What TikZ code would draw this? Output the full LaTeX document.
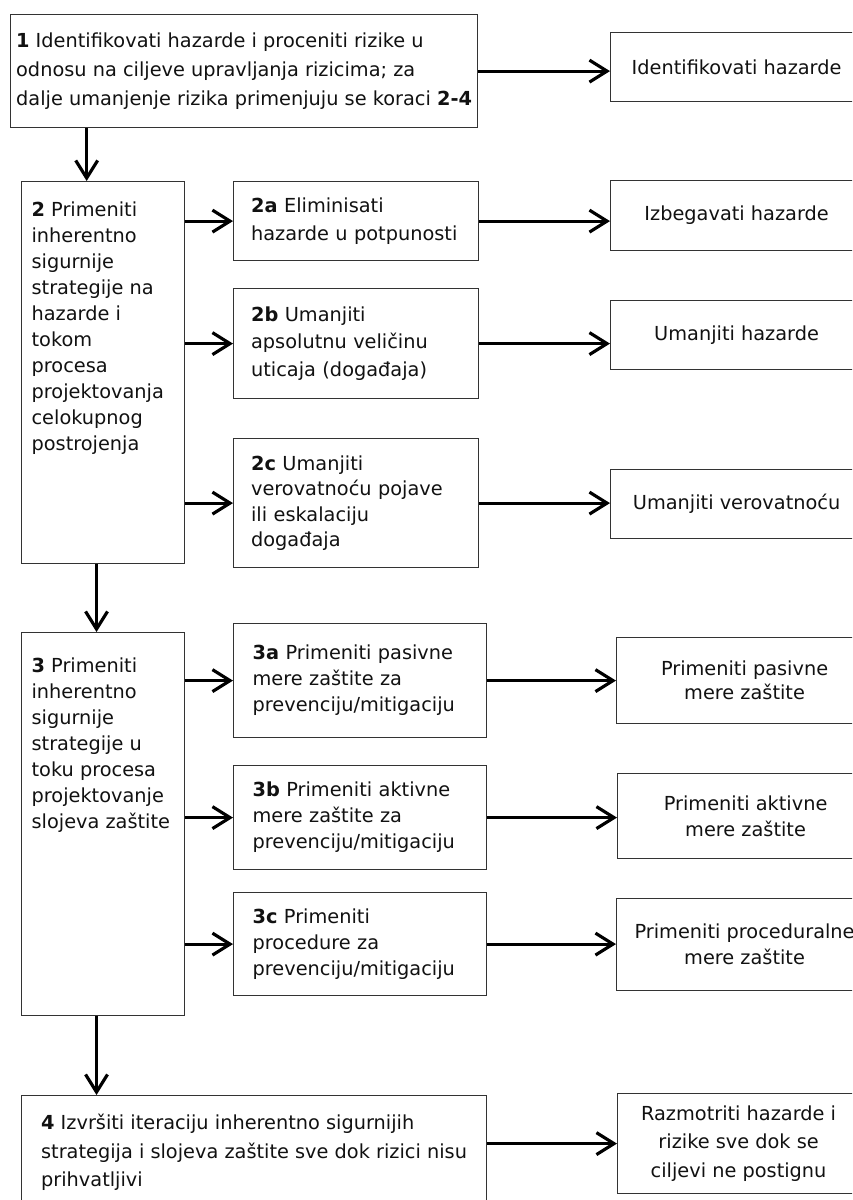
\documentclass[tikz,border=0pt]{standalone}
\usepackage{fontspec}
\setmainfont{DejaVu Sans}
\usetikzlibrary{arrows.meta, positioning, calc}
\definecolor{boxline}{HTML}{333333}
\definecolor{inkcolor}{HTML}{111111}

\begin{document}
\begin{tikzpicture}[
    x=0.02cm, y=-0.02cm,
    every node/.style={text=inkcolor},
    lead/.style={font=\fontsize{11pt}{#1}\selectfont},
    box/.style={draw=boxline, line width=0.7pt, inner sep=0pt, anchor=north west, lead=14.8pt},
    main/.style={box, align=left, inner xsep=0.08cm},
    sub/.style={box, align=left, text width=4.2cm, minimum width=4.9cm},
    subwide/.style={box, align=left, text width=4.3cm, minimum width=5.06cm},
    goal/.style={box, align=center, minimum width=5.04cm},
    arr/.style={line width=1.8pt, -{Straight Barb[length=10pt, width=12.5pt]}},
]
\useasboundingbox (0,0) rectangle (852,1200);
\clip (0,0) rectangle (852,1200);

% ================================================================ step 1
\node[main, lead=16.3pt, minimum width=9.34cm, minimum height=2.26cm] (b1) at (10,14)
    {\textbf{1} Identifikovati hazarde i proceniti rizike u\\ odnosu na ciljeve upravljanja rizicima; za\\ dalje umanjenje rizika primenjuju se koraci \textbf{2-4}};
\node[goal, minimum height=1.38cm] (r1) at (610,32) {Identifikovati hazarde};

% ================================================================ step 2
\node[box, inner xsep=0.2cm, inner ysep=0.4cm] (b2) at (21,181)
    {\parbox[t][6.84cm][t]{2.86cm}{\raggedright\textbf{2} Primeniti\\ inherentno\\ sigurnije\\ strategije na\\ hazarde i\\ tokom\\ procesa\\ projektovanja\\ celokupnog\\ postrojenja}};

\node[sub, lead=16.4pt, minimum height=1.58cm] (s2a) at (233,181) {\textbf{2a} Eliminisati\\ hazarde u potpunosti};
\node[sub, lead=15.9pt, minimum height=2.2cm] (s2b) at (233,288) {\textbf{2b} Umanjiti\\ apsolutnu veličinu\\ uticaja (događaja)};
\node[sub, lead=14.4pt, minimum height=2.58cm] (s2c) at (233,438) {\textbf{2c} Umanjiti\\ verovatnoću pojave\\ ili eskalaciju\\ događaja};

\node[goal, minimum height=1.4cm] (r2a) at (610,180) {Izbegavati hazarde};
\node[goal, minimum height=1.38cm] (r2b) at (610,300) {Umanjiti hazarde};
\node[goal, minimum height=1.38cm] (r2c) at (610,469) {Umanjiti verovatnoću};

% ================================================================ step 3
\node[box, inner xsep=0.2cm, inner ysep=0.5cm] (b3) at (21,632)
    {\parbox[t][6.66cm][t]{2.86cm}{\raggedright\textbf{3} Primeniti\\ inherentno\\ sigurnije\\ strategije u\\ toku procesa\\ projektovanje\\ slojeva zaštite}};

\node[subwide, minimum height=2.28cm] (s3a) at (233,623) {\textbf{3a} Primeniti pasivne\\ mere zaštite za\\ prevenciju/mitigaciju};
\node[subwide, minimum height=2.08cm] (s3b) at (233,765) {\textbf{3b} Primeniti aktivne\\ mere zaštite za\\ prevenciju/mitigaciju};
\node[subwide, minimum height=2.06cm] (s3c) at (233,892) {\textbf{3c} Primeniti\\ procedure za\\ prevenciju/mitigaciju};

\node[goal, minimum width=5.12cm, minimum height=1.72cm, lead=13.8pt] (r3a) at (616,637) {Primeniti pasivne\\ mere zaštite};
\node[goal, minimum width=5.12cm, minimum height=1.7cm, lead=15pt] (r3b) at (617,773) {Primeniti aktivne\\ mere zaštite};
\node[goal, minimum width=5.12cm, minimum height=1.84cm, lead=15pt] (r3c) at (616,898) {Primeniti proceduralne\\ mere zaštite};

% ================================================================ step 4
\node[main, lead=16.2pt, inner xsep=0.1cm, minimum width=9.3cm, minimum height=2.28cm] (b4) at (21,1095)
    {\textbf{4} Izvršiti iteraciju inherentno sigurnijih\\ strategija i slojeva zaštite sve dok rizici nisu\\ prihvatljivi};
\node[goal, minimum width=4.84cm, minimum height=2cm, lead=16.2pt] (r4) at (617,1093) {Razmotriti hazarde i\\ rizike sve dok se\\ ciljevi ne postignu};

% ================================================================ arrows
\draw[arr] (b1.east) -- (b1.east -| r1.west);
\foreach \s/\r in {s2a/r2a, s2b/r2b, s2c/r2c, s3a/r3a, s3b/r3b, s3c/r3c}{
    \draw[arr] (\s.east) -- (\s.east -| \r.west);
}
\foreach \s in {s2a, s2b, s2c}{ \draw[arr] (\s.west -| b2.east) -- (\s.west); }
\foreach \s in {s3a, s3b, s3c}{ \draw[arr] (\s.west -| b3.east) -- (\s.west); }
\draw[arr] (b4.east |- r4.west) -- (r4.west);

% down the left column
\coordinate (d12) at ($(b2.north west)!0.4!(b2.north east)$);
\draw[arr] (d12 |- b1.south) -- (d12);
\coordinate (d23) at ($(b3.north west)!0.46!(b3.north east)$);
\draw[arr] (d23 |- b2.south) -- (d23);
\coordinate (d34) at ($(b3.south west)!0.46!(b3.south east)$);
\draw[arr] (d34) -- (d34 |- b4.north);
\end{tikzpicture}
\end{document}
